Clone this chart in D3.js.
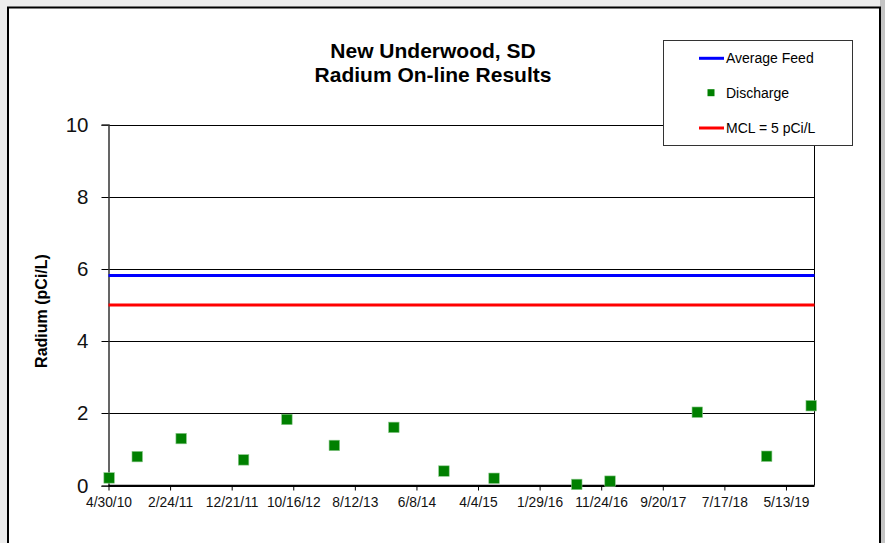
<!DOCTYPE html>
<html>
<head>
<meta charset="utf-8">
<script src="https://cdn.jsdelivr.net/npm/d3@7.9.0/dist/d3.min.js"></script>
<style>
  html, body { margin: 0; padding: 0; background: #ededed; }
  svg { display: block; font-family: "Liberation Sans", Arial, sans-serif; }
</style>
</head>
<body>
<svg id="chart" width="885" height="543"></svg>
<script>
// discharge samples (date, pCi/L)
const dischargeDates = ['5/3/10', '9/17/10', '4/19/11', '2/17/12', '9/15/12', '5/4/13', '2/18/14',
  '10/20/14', '6/21/15', '7/28/16', '1/6/17', '3/7/18', '2/8/19', '9/13/19'];
const dischargeValues = [0.21, 0.80, 1.30, 0.71, 1.83, 1.11, 1.61, 0.40, 0.20, 0.03, 0.12, 2.03, 0.81, 2.21];

const averageFeed = 5.82;
const mcl = 5;

const xTickLabels = ['4/30/10', '2/24/11', '12/21/11', '10/16/12', '8/12/13', '6/8/14', '4/4/15',
  '1/29/16', '11/24/16', '9/20/17', '7/17/18', '5/13/19'];
const xDomainLabels = ['4/30/10', '9/29/19'];
const yTicks = [0, 2, 4, 6, 8, 10];

const title = ['New Underwood, SD', 'Radium On-line Results'];
const yLabel = 'Radium (pCi/L)';
const legendItems = [
  { name: 'Average Feed', type: 'line', color: '#0000ff' },
  { name: 'Discharge', type: 'square', color: '#008000' },
  { name: 'MCL = 5 pCi/L', type: 'line', color: '#ff0000' },
];

const parseDate = d3.timeParse('%m/%d/%y');
const fmtDate = d3.timeFormat('%-m/%-d/%y');

const discharge = dischargeDates.map((d, i) => ({ date: parseDate(d), value: dischargeValues[i] }));

const svg = d3.select('#chart');

// chart frame
svg.append('rect').attr('x', 880).attr('y', 0).attr('width', 5).attr('height', 543).attr('fill', '#c4c4c4');
svg.append('rect')
  .attr('x', 8).attr('y', 7.5).attr('width', 872).attr('height', 560)
  .attr('fill', '#fff').attr('stroke', '#000').attr('stroke-width', 2);

const plot = { left: 108.5, right: 814.5, top: 124.5, bottom: 485.5 };

const x = d3.scaleTime()
  .domain(xDomainLabels.map(parseDate))
  .range([plot.left, plot.right]);

const y = d3.scaleLinear()
  .domain([0, 10])
  .range([plot.bottom, plot.top]);

// gridlines
svg.append('g')
  .attr('class', 'gridlines')
  .selectAll('line')
  .data(yTicks)
  .join('line')
  .attr('x1', plot.left - 7).attr('x2', plot.right)
  .attr('y1', d => Math.round(y(d)) + 0.5).attr('y2', d => Math.round(y(d)) + 0.5)
  .attr('stroke', '#000').attr('stroke-width', 1);

// right border of plot
svg.append('line')
  .attr('x1', plot.right).attr('x2', plot.right)
  .attr('y1', plot.top).attr('y2', plot.bottom)
  .attr('stroke', '#000');

// y axis
const yAxis = svg.append('g')
  .attr('transform', `translate(${plot.left},0)`)
  .call(d3.axisLeft(y).tickValues(yTicks).tickSize(7).tickPadding(13).tickFormat(d3.format('d')));
yAxis.select('.domain').attr('stroke', '#333').attr('stroke-width', 1.5);
yAxis.selectAll('.tick line').remove();
yAxis.selectAll('text')
  .attr('font-family', '"Liberation Sans", Arial, sans-serif')
  .attr('font-size', 20.5).attr('fill', '#111');

// x axis
const xAxis = svg.append('g')
  .attr('transform', `translate(0,${plot.bottom})`)
  .call(d3.axisBottom(x).tickValues(xTickLabels.map(parseDate)).tickSize(5).tickPadding(7).tickFormat(fmtDate));
xAxis.select('.domain').attr('d', `M${plot.left},0H${plot.right}`).attr('stroke', '#000').attr('stroke-width', 1.5);
xAxis.selectAll('.tick line').attr('stroke', '#000');
xAxis.selectAll('text')
  .attr('font-family', '"Liberation Sans", Arial, sans-serif')
  .attr('font-size', 13.8).attr('fill', '#111');

// reference lines
svg.append('line')
  .attr('x1', plot.left).attr('x2', plot.right)
  .attr('y1', y(averageFeed)).attr('y2', y(averageFeed))
  .attr('stroke', '#0000ff').attr('stroke-width', 3);
svg.append('line')
  .attr('x1', plot.left).attr('x2', plot.right)
  .attr('y1', y(mcl)).attr('y2', y(mcl))
  .attr('stroke', '#ff0000').attr('stroke-width', 3);

// discharge markers
const s = 10.5;
svg.append('g')
  .selectAll('rect')
  .data(discharge)
  .join('rect')
  .attr('x', d => x(d.date) - s / 2)
  .attr('y', d => y(d.value) - s / 2)
  .attr('width', s).attr('height', s)
  .attr('fill', '#008000')
  .attr('stroke', '#8cc88c').attr('stroke-width', 0.6);

// title
svg.append('text')
  .attr('x', 433).attr('text-anchor', 'middle')
  .attr('font-size', 21).attr('font-weight', 'bold').attr('fill', '#000')
  .selectAll('tspan')
  .data(title)
  .join('tspan')
  .attr('x', 433)
  .attr('y', (d, i) => 57.5 + i * 24)
  .text(d => d);

// y label
svg.append('text')
  .attr('transform', 'translate(47,311) rotate(-90)')
  .attr('text-anchor', 'middle')
  .attr('font-size', 16).attr('font-weight', 'bold').attr('fill', '#000')
  .text(yLabel);

// legend
const lg = svg.append('g');
lg.append('rect')
  .attr('x', 663.5).attr('y', 40.5).attr('width', 189).attr('height', 105)
  .attr('fill', '#fff').attr('stroke', '#333').attr('stroke-width', 1);
const rowY = [58.3, 92.7, 128];
legendItems.forEach((item, i) => {
  const yy = rowY[i];
  if (item.type === 'line') {
    lg.append('line')
      .attr('x1', 699).attr('x2', 724).attr('y1', yy).attr('y2', yy)
      .attr('stroke', item.color).attr('stroke-width', 3);
  } else {
    lg.append('rect')
      .attr('x', 707.5).attr('y', yy - 3.5).attr('width', 7).attr('height', 7)
      .attr('fill', item.color);
  }
  lg.append('text')
    .attr('x', 726).attr('y', yy).attr('dy', '0.35em')
    .attr('font-size', 14).attr('fill', '#000')
    .text(item.name);
});
</script>
</body>
</html>
